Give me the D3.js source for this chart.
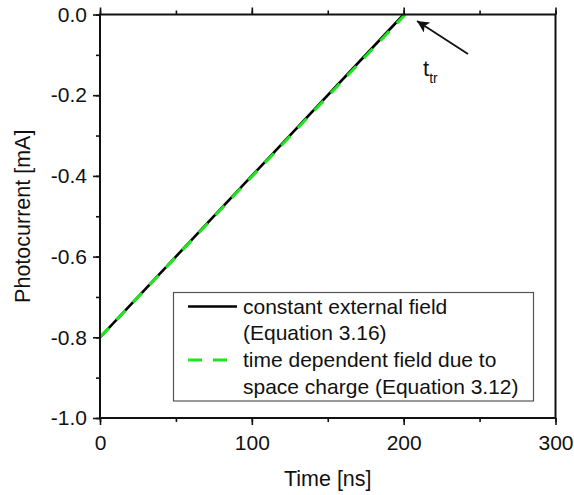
<!DOCTYPE html>
<html>
<head>
<meta charset="utf-8">
<script src="https://cdn.jsdelivr.net/npm/d3@7"></script>
<style>
  body { margin: 0; background: #fff; }
  text { font-family: "Liberation Sans", Arial, sans-serif; fill: #111; }
</style>
</head>
<body>
<svg id="chart" width="574" height="495"></svg>
<script>
// data
var constTime = [0, 200];
var constCurrent = [-0.8, 0];
var spaceTime = [0, 201];
var spaceCurrent = [-0.8, 0];
var xTicks = [0, 100, 200, 300];
var yTicks = [0, -0.2, -0.4, -0.6, -0.8, -1.0];
var legendLabels = [
    ["constant external field", "(Equation 3.16)"],
    ["time dependent field due to", "space charge (Equation 3.12)"]
];

var svg = d3.select("#chart");

// plot box (note: "top" is taken by window.top)
var pLeft = 100, pRight = 555.5, pTop = 14.5, pBottom = 418;

var x = d3.scaleLinear().domain([0, 300]).range([pLeft, pRight]);
var y = d3.scaleLinear().domain([-1, 0]).range([pBottom, pTop]);

function zip(a, b) {
    return a.map(function(v, i) { return { x: v, y: b[i] }; });
}

var line = d3.line()
    .x(function(d) { return x(d.x); })
    .y(function(d) { return y(d.y); });

// data lines
svg.append("path")
    .attr("d", line(zip(constTime, constCurrent)))
    .attr("fill", "none")
    .attr("stroke", "#000")
    .attr("stroke-width", 2.6);

svg.append("path")
    .attr("d", line(zip(spaceTime, spaceCurrent)))
    .attr("fill", "none")
    .attr("stroke", "#1ee61e")
    .attr("stroke-width", 3)
    .attr("stroke-dasharray", "13,11");

// frame
svg.append("rect")
    .attr("x", pLeft).attr("y", pTop)
    .attr("width", pRight - pLeft).attr("height", pBottom - pTop)
    .attr("fill", "none")
    .attr("stroke", "#111")
    .attr("stroke-width", 2);

// axes
var xMinor = d3.range(0, 301, 50);
var yMinor = d3.range(-10, 1, 1).map(function(v) { return v / 10; });
var fmtY = function(d) { return d3.format(".1f")(d).replace("\u2212", "-"); };

var xAxis = d3.axisBottom(x).tickValues(xTicks).tickSize(7).tickFormat(d3.format("d"));
var xAxisMinor = d3.axisBottom(x).tickValues(xMinor).tickSize(4).tickFormat("");
var xTop = d3.axisTop(x).tickValues(xTicks).tickSize(7).tickFormat("");
var xTopMinor = d3.axisTop(x).tickValues(xMinor).tickSize(4).tickFormat("");
var yAxis = d3.axisLeft(y).tickValues(yTicks).tickSize(7).tickFormat(fmtY);
var yAxisMinor = d3.axisLeft(y).tickValues(yMinor).tickSize(4).tickFormat("");

function styleAxis(g) {
    g.select(".domain").remove();
    g.selectAll(".tick line").attr("stroke", "#111").attr("stroke-width", 1.6);
    g.selectAll(".tick text")
        .attr("font-size", 21)
        .attr("font-family", "Liberation Sans, Arial, sans-serif")
        .attr("fill", "#111");
}

svg.append("g").attr("transform", "translate(0," + pBottom + ")").call(xAxisMinor).call(styleAxis);
svg.append("g").attr("transform", "translate(0," + pBottom + ")").call(xAxis).call(styleAxis)
    .selectAll(".tick text").attr("dy", null).attr("y", 32);
svg.append("g").attr("transform", "translate(0," + pTop + ")").call(xTopMinor).call(styleAxis);
svg.append("g").attr("transform", "translate(0," + pTop + ")").call(xTop).call(styleAxis);
svg.append("g").attr("transform", "translate(" + pLeft + ",0)").call(yAxisMinor).call(styleAxis);
svg.append("g").attr("transform", "translate(" + pLeft + ",0)").call(yAxis).call(styleAxis)
    .selectAll(".tick text").attr("x", -13);

// axis titles
svg.append("text")
    .attr("x", (pLeft + pRight) / 2)
    .attr("y", 486)
    .attr("text-anchor", "middle")
    .attr("font-size", 21.5)
    .text("Time [ns]");

svg.append("text")
    .attr("transform", "translate(30," + (pTop + pBottom) / 2 + ") rotate(-90)")
    .attr("text-anchor", "middle")
    .attr("font-size", 21.5)
    .text("Photocurrent [mA]");

// legend
var lg = svg.append("g");
lg.append("rect")
    .attr("x", 173.5).attr("y", 292.5)
    .attr("width", 360).attr("height", 108.5)
    .attr("fill", "#fff")
    .attr("stroke", "#555")
    .attr("stroke-width", 1.2);

lg.append("line")
    .attr("x1", 188).attr("x2", 237)
    .attr("y1", 306.5).attr("y2", 306.5)
    .attr("stroke", "#000").attr("stroke-width", 2.6);

lg.append("line")
    .attr("x1", 188).attr("x2", 237)
    .attr("y1", 360).attr("y2", 360)
    .attr("stroke", "#1ee61e").attr("stroke-width", 3)
    .attr("stroke-dasharray", "14,11");

legendLabels.forEach(function(lines, i) {
    lines.forEach(function(s, j) {
        lg.append("text")
            .attr("x", 243)
            .attr("y", 313.5 + i * 53.5 + j * 26.5)
            .attr("font-size", 21)
            .text(s);
    });
});

// annotation arrow
var defs = svg.append("defs");
defs.append("marker")
    .attr("id", "arrowhead")
    .attr("viewBox", "0 0 10 10")
    .attr("refX", 10)
    .attr("refY", 5)
    .attr("markerWidth", 12)
    .attr("markerHeight", 12)
    .attr("markerUnits", "userSpaceOnUse")
    .attr("orient", "auto")
  .append("path")
    .attr("d", "M10 5 0 0 2.5 5 0 10Z")
    .attr("fill", "#111");

svg.append("line")
    .attr("x1", 468).attr("y1", 54)
    .attr("x2", 417).attr("y2", 21)
    .attr("stroke", "#111")
    .attr("stroke-width", 1.8)
    .attr("marker-end", "url(#arrowhead)");

var ann = svg.append("text").attr("x", 423).attr("y", 76).attr("font-size", 22).attr("fill", "#111");
ann.append("tspan").text("t");
ann.append("tspan").attr("dy", 7).attr("font-size", 14).text("tr");
</script>
</body>
</html>
